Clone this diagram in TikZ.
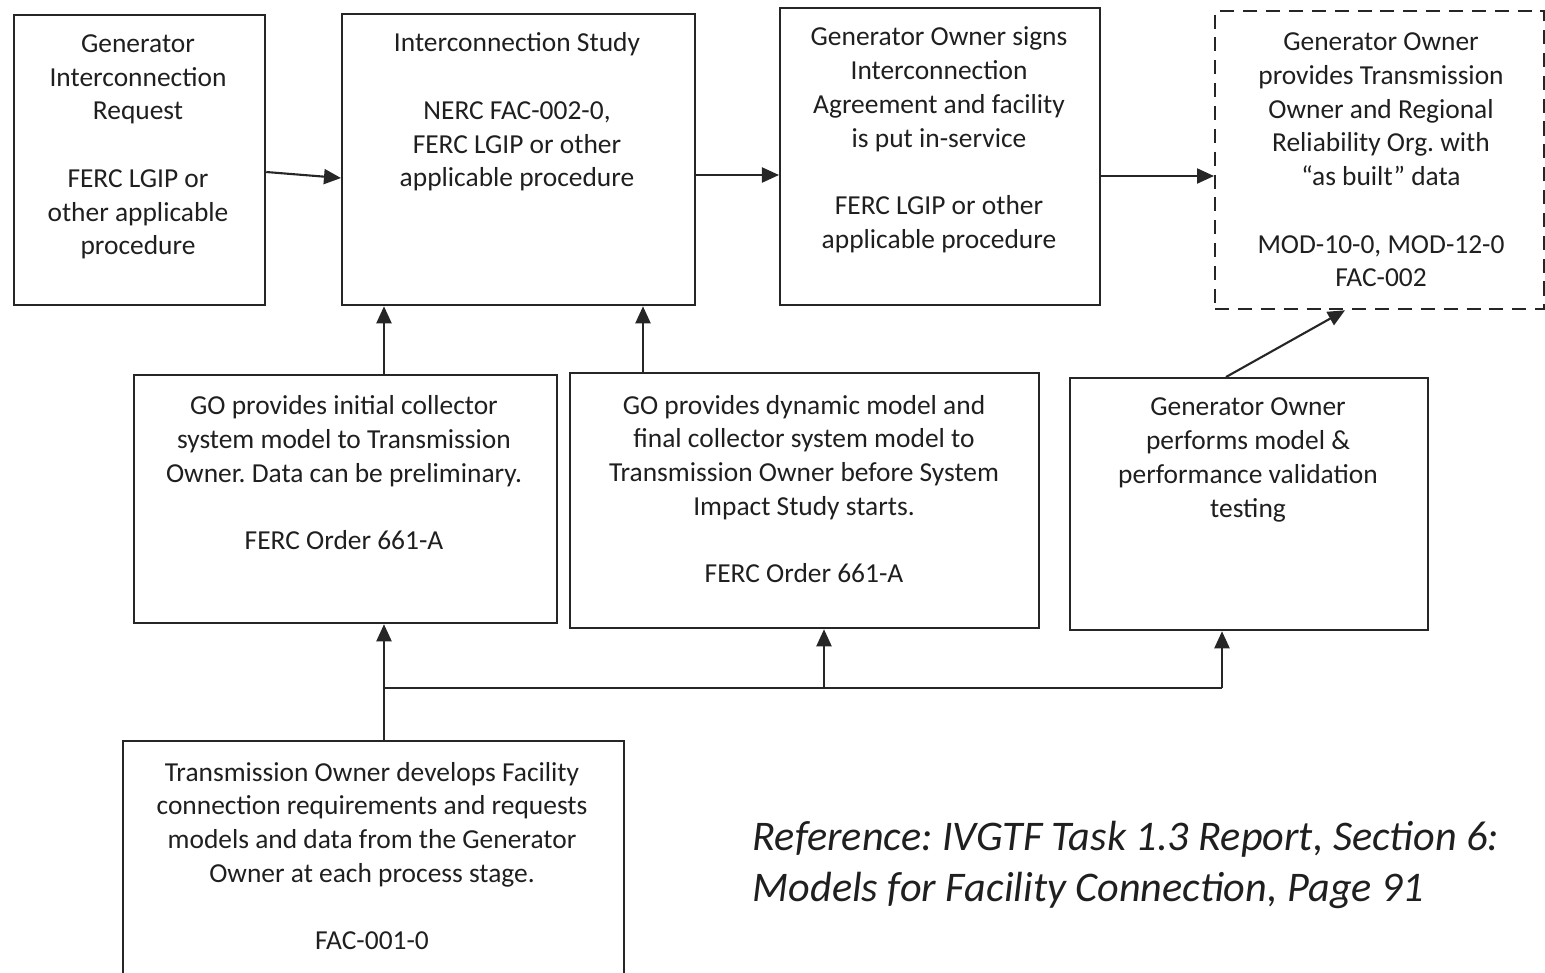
\documentclass[tikz,border=0pt]{standalone}
\usepackage{fontspec}
\setmainfont{Carlito}
\usetikzlibrary{arrows.meta}
\frenchspacing
\begin{document}
\begin{tikzpicture}[x=0.01cm,y=-0.01cm,
  box/.style={draw=black!85,line width=0.6pt,rectangle,inner sep=0pt,anchor=north west},
  dbox/.style={box,dashed,dash pattern=on 4pt off 2.5pt},
  txt/.style={inner sep=0pt,align=center,text=black!88,font=\fontsize{7.8}{9.6}\selectfont},
  conn/.style={draw=black!85,line width=0.6pt},
  arr/.style={conn,-{Triangle[length=0.17cm,width=0.15cm]}}]
\useasboundingbox (0,0) rectangle (1545,972);
% boxes
\node[box,minimum width=2.51cm,minimum height=2.90cm] (A) at (13,14) {};
\node[box,minimum width=3.53cm,minimum height=2.91cm] (B) at (341,13) {};
\node[box,minimum width=3.20cm,minimum height=2.97cm] (C) at (779,7) {};
\node[dbox,minimum width=3.29cm,minimum height=2.98cm] (D) at (1214,10) {};
\node[box,minimum width=4.23cm,minimum height=2.48cm] (E) at (133,374) {};
\node[box,minimum width=4.69cm,minimum height=2.55cm] (F) at (569,372) {};
\node[box,minimum width=3.58cm,minimum height=2.52cm] (G) at (1069,377) {};
\node[box,minimum width=5.01cm,minimum height=2.45cm] (H) at (122,740) {};
% texts
\node[txt] (At) at (138,147) {Generator\\Interconnection\\Request\\[9.6pt]FERC LGIP or\\other applicable\\procedure};
\node[txt] (Bt) at (517,112) {Interconnection Study\\[9.6pt]NERC FAC-002-0,\\FERC LGIP or other\\applicable procedure};
\node[txt] (Ct) at (939,140) {Generator Owner signs\\Interconnection\\Agreement and facility\\is put in-service\\[9.6pt]FERC LGIP or other\\applicable procedure};
\node[txt] (Dt) at (1381,160) {Generator Owner\\provides Transmission\\Owner and Regional\\Reliability Org. with\\“as built” data\\[9.6pt]MOD-10-0, MOD-12-0\\FAC-002};
\node[txt] (Et) at (344,473) {GO provides initial collector\\system model to Transmission\\Owner. Data can be preliminary.\\[9.6pt]FERC Order 661-A};
\node[txt] (Ft) at (804,489) {GO provides dynamic model and\\final collector system model to\\Transmission Owner before System\\Impact Study starts.\\[9.6pt]FERC Order 661-A};
\node[txt] (Gt) at (1248,460) {Generator Owner\\performs model \&\\performance validation\\testing};
\node[txt] (Ht) at (372,856) {Transmission Owner develops Facility\\connection requirements and requests\\models and data from the Generator\\Owner at each process stage.\\[9.6pt]FAC-001-0};
\node[inner sep=0pt,anchor=west,align=left,text=black!88,font=\fontsize{12}{14.5}\selectfont\itshape] (R) at (752,865) {Reference: IVGTF Task 1.3 Report, Section 6:\\Models for Facility Connection, Page 91};
% connectors
\coordinate (a1) at (A.east |- 0,172);
\coordinate (b1) at (B.west |- 0,178);
\draw[arr] (a1) -- (b1);
\draw[arr] (B.east |- 0,175) -- (C.west |- 0,175);
\draw[arr] (C.east |- 0,176) -- (D.west |- 0,176);
\draw[arr] (E.north -| 384,0) -- (B.south -| 384,0);
\draw[arr] (F.north -| 643,0) -- (B.south -| 643,0);
\coordinate (g1) at (G.north -| 1226,0);
\coordinate (d1) at (D.south -| 1345,0);
\draw[arr] (g1) -- (d1);
\coordinate (j1) at (384,688);
\coordinate (j2) at (824,688);
\coordinate (j3) at (1222,688);
\draw[arr] (H.north -| j1) -- (E.south -| j1);
\draw[conn] (j1) -- (j3);
\draw[arr] (j2) -- (F.south -| j2);
\draw[arr] (j3) -- (G.south -| j3);
\end{tikzpicture}
\end{document}
